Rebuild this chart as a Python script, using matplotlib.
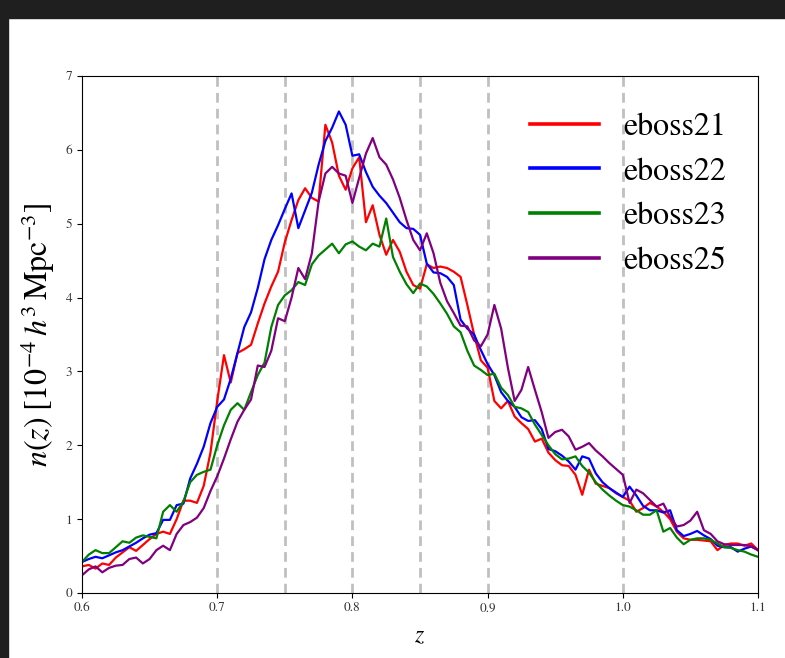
import numpy as np
import matplotlib
matplotlib.use("Agg")
import matplotlib.pyplot as plt
from matplotlib.patches import Rectangle

plt.rcParams['font.family'] = ['STIXGeneral', 'DejaVu Serif']
plt.rcParams['mathtext.fontset'] = 'stix'

# redshift grid, step 0.005
z = np.round(np.arange(0.6, 1.1001, 0.005), 3)

eboss21 = [0.36, 0.38, 0.33, 0.40, 0.38, 0.48, 0.55, 0.62, 0.57, 0.65,
           0.73, 0.80, 0.83, 0.80, 1.00, 1.25, 1.25, 1.22, 1.45, 1.90,
           2.60, 3.22, 2.85, 3.25, 3.30, 3.36, 3.65, 3.92, 4.15, 4.35,
           4.75, 5.05, 5.32, 5.48, 5.35, 5.30, 6.34, 6.10, 5.65, 5.46,
           5.75, 5.90, 5.02, 5.25, 4.85, 4.58, 4.78, 4.62, 4.35, 4.17,
           4.12, 4.45, 4.40, 4.42, 4.40, 4.35, 4.28, 3.90, 3.50, 3.15,
           3.05, 2.60, 2.50, 2.60, 2.39, 2.30, 2.22, 2.05, 2.09, 1.90,
           1.80, 1.73, 1.72, 1.60, 1.33, 1.67, 1.48, 1.45, 1.42, 1.35,
           1.30, 1.25, 1.10, 1.15, 1.22, 1.17, 1.10, 1.00, 0.83, 0.74,
           0.72, 0.72, 0.71, 0.70, 0.58, 0.65, 0.67, 0.67, 0.64, 0.67,
           0.58]
eboss22 = [0.42, 0.46, 0.49, 0.47, 0.51, 0.55, 0.58, 0.63, 0.68, 0.74,
           0.79, 0.81, 0.99, 0.99, 1.19, 1.21, 1.55, 1.75, 1.98, 2.30,
           2.52, 2.62, 2.90, 3.25, 3.60, 3.80, 4.13, 4.52, 4.78, 4.98,
           5.20, 5.41, 4.94, 5.18, 5.42, 5.80, 6.12, 6.30, 6.52, 6.34,
           5.92, 5.94, 5.70, 5.50, 5.38, 5.28, 5.15, 5.02, 4.94, 4.93,
           4.85, 4.46, 4.34, 4.33, 4.28, 4.17, 3.70, 3.58, 3.50, 3.29,
           3.10, 2.95, 2.72, 2.60, 2.52, 2.38, 2.33, 2.34, 2.22, 1.95,
           1.92, 1.86, 1.78, 1.67, 1.85, 1.82, 1.62, 1.50, 1.42, 1.36,
           1.30, 1.44, 1.32, 1.18, 1.12, 1.12, 1.09, 1.12, 0.85, 0.77,
           0.80, 0.84, 0.78, 0.73, 0.64, 0.62, 0.62, 0.56, 0.60, 0.63,
           0.58]
eboss23 = [0.42, 0.52, 0.58, 0.54, 0.54, 0.62, 0.70, 0.68, 0.75, 0.78,
           0.76, 0.74, 1.10, 1.19, 1.10, 1.24, 1.50, 1.60, 1.64, 1.67,
           2.00, 2.27, 2.48, 2.57, 2.48, 2.72, 2.95, 3.12, 3.60, 3.90,
           4.03, 4.10, 4.21, 4.17, 4.45, 4.57, 4.65, 4.73, 4.60, 4.72,
           4.76, 4.69, 4.64, 4.73, 4.69, 5.07, 4.55, 4.35, 4.18, 4.06,
           4.19, 4.15, 4.05, 3.92, 3.78, 3.61, 3.53, 3.28, 3.08, 3.02,
           2.95, 2.97, 2.78, 2.68, 2.52, 2.50, 2.45, 2.28, 2.14, 2.00,
           1.88, 1.81, 1.82, 1.85, 1.72, 1.63, 1.50, 1.40, 1.32, 1.25,
           1.19, 1.17, 1.12, 1.06, 1.06, 1.12, 0.83, 0.88, 0.75, 0.66,
           0.72, 0.74, 0.74, 0.72, 0.67, 0.62, 0.61, 0.58, 0.56, 0.52,
           0.49]
eboss25 = [0.24, 0.32, 0.36, 0.28, 0.34, 0.37, 0.38, 0.46, 0.48, 0.40,
           0.46, 0.58, 0.64, 0.58, 0.80, 0.92, 0.96, 1.02, 1.15, 1.38,
           1.58, 1.82, 2.08, 2.32, 2.48, 2.62, 3.08, 3.06, 3.28, 3.72,
           3.68, 4.00, 4.40, 4.25, 4.60, 5.30, 5.68, 5.77, 5.68, 5.65,
           5.28, 5.62, 5.95, 6.16, 5.90, 5.80, 5.60, 5.35, 5.05, 4.78,
           4.64, 4.87, 4.60, 4.20, 3.95, 3.79, 3.62, 3.61, 3.42, 3.34,
           3.50, 3.90, 3.58, 3.05, 2.60, 2.75, 3.06, 2.75, 2.45, 2.10,
           2.18, 2.21, 2.12, 1.94, 1.98, 2.03, 1.93, 1.85, 1.76, 1.68,
           1.60, 1.22, 1.40, 1.35, 1.26, 1.17, 1.21, 1.03, 0.90, 0.92,
           0.98, 1.10, 0.85, 0.80, 0.70, 0.66, 0.65, 0.65, 0.65, 0.63,
           0.58]

series = [('eboss21', eboss21, 'red'), ('eboss22', eboss22, 'blue'),
          ('eboss23', eboss23, 'green'), ('eboss25', eboss25, 'purple')]
zcuts = [0.7, 0.75, 0.8, 0.85, 0.9, 1.0]

fig = plt.figure(figsize=(7.85, 6.58), dpi=100)
ax = fig.add_axes([0.1045, 0.0988, 0.8611, 0.7857])

for zc in zcuts:
    ax.axvline(zc, color='#c0c0c0', lw=2.0, ls=(0, (3.5, 2.2)), zorder=1)

for name, vals, col in series:
    ax.plot(z, vals, color=col, lw=1.6, label=name, zorder=2)

ax.set_xlim(0.6, 1.1)
ax.set_ylim(0, 7)
ax.set_xticks([0.6, 0.7, 0.8, 0.9, 1.0, 1.1])
ax.set_yticks(range(8))
ax.tick_params(labelsize=9.5, length=3.5, labelcolor='#333333')
ax.set_xlabel(r'$z$', fontsize=17, labelpad=8)
ax.set_ylabel(r'$n(z)\;[10^{-4}\,h^3\,\mathrm{Mpc}^{-3}]$', fontsize=23, labelpad=6)

leg = ax.legend(loc='upper right', bbox_to_anchor=(0.995, 0.985), frameon=False,
                fontsize=23, handlelength=2.15, labelspacing=0.48, handletextpad=0.75)
for h in leg.get_lines():
    h.set_linewidth(2.6)

# dark screenshot frame
fig.patches.append(Rectangle((0, 1 - 18 / 658), 1, 18 / 658, transform=fig.transFigure,
                             color='#1f1f1f', zorder=10))
fig.patches.append(Rectangle((0, 0), 8 / 785, 1, transform=fig.transFigure,
                             color='#1f1f1f', zorder=10))

fig.savefig('out.png', dpi=100)
